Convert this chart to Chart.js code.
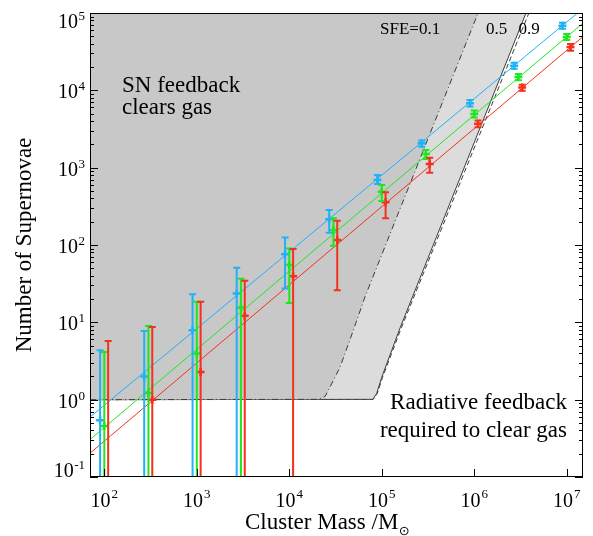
<!DOCTYPE html>
<html lang="en">
<head>
<meta charset="UTF-8" />
<title>Number of Supernovae vs Cluster Mass</title>
<script src="https://cdn.jsdelivr.net/npm/chart.js"></script>
<style>
  html, body { margin: 0; padding: 0; background: #fff; }
  #wrap { width: 593px; height: 536px; }
</style>
</head>
<body>
<div id="wrap"><canvas id="snChart"></canvas></div>
<script>
  // cluster masses (each colour is plotted slightly offset)
  const blueMass  = [90, 270, 900, 2700, 9000, 2.7e4, 9e4, 2.7e5, 9e5, 2.7e6, 9e6];
  const greenMass = [100, 300, 1000, 3000, 1e4, 3e4, 1e5, 3e5, 1e6, 3e6, 1e7];
  const redMass   = [110, 330, 1100, 3300, 1.1e4, 3.3e4, 1.1e5, 3.3e5, 1.1e6, 3.3e6, 1.1e7];

  // number of supernovae + error bar ends
  const blueN   = [0.54, 2.0, 7.9, 23.6, 76, 216, 693, 2070, 6820, 20750, 68500];
  const blueHi  = [4.35, 7.7, 23.1, 50.7, 125, 283, 805, 2240, 7500, 22700, 75000];
  const blueLo  = [0.001, 0.001, 0.001, 0.001, 27.4, 144, 615, 1870, 6200, 19000, 62500];
  const greenN  = [0.455, 1.22, 3.94, 15.5, 55, 156, 489, 1504, 4960, 14830, 48900];
  const greenHi = [4.14, 8.98, 18.4, 36.5, 90.4, 221, 597, 1694, 5500, 16300, 53500];
  const greenLo = [0.001, 0.001, 0.001, 0.001, 17.8, 97.7, 371, 1294, 4450, 13500, 44700];
  const redN    = [null, 1.0, 2.28, 12.2, 39.5, 116, 356, 1117, 3690, 10870, 36300];
  const redHi   = [5.74, 8.7, 18.4, 34.4, 88.5, 206, 480, 1348, 4070, 11780, 39600];
  const redLo   = [0.001, 0.001, 0.001, 0.001, 0.001, 26, 221, 861, 3335, 9860, 32500];

  // fitted lines (end points)
  const blueFitM = [70, 1.31e7],  blueFitN = [0.595, 1e5];
  const greenFitM = [70, 1.5e7],  greenFitN = [0.305, 74000];
  const redFitM = [70, 1.5e7],    redFitN = [0.203, 49500];

  // SFE boundaries
  const sfe01M = [70, 2.07e4, 2.44e4, 2.76e4, 3.54e4, 4.93e4, 6.59e4, 1.1e6];
  const sfe01N = [1, 1.01, 1.10, 1.46, 2.64, 7.9, 21.4, 1e5];
  const sfe05M = [70, 8.0e4, 8.8e4, 1.0e5, 1.58e5, 3.63e6];
  const sfe05N = [1, 1.01, 1.2, 1.95, 8.5, 1e5];
  const sfe09M = [70, 8.1e4, 8.95e4, 1.02e5, 1.63e5, 3.9e6];
  const sfe09N = [1, 1.01, 1.2, 1.95, 8.5, 1e5];

  // axis ticks (powers of ten)
  const xTickExps = [2, 3, 4, 5, 6, 7];
  const yTickExps = [-1, 0, 1, 2, 3, 4, 5];

  const BLUE = '#1eb2f8', GREEN = '#20e620', RED = '#f2321e';
  const SERIF = '"Liberation Serif", "Times New Roman", serif';

  const pts = (xs, ys) => xs.map((v, i) => ({ x: v, y: ys[i] }));

  const markers = (label, xs, ys, hi, lo, color) => ({
    label, data: pts(xs, ys), showLine: false, order: 0,
    pointStyle: 'cross', pointRadius: 4, borderWidth: 2.5,
    borderColor: color, backgroundColor: color,
    errM: xs, errHi: hi, errLo: lo
  });
  const fitLine = (xs, ys, color) => ({
    data: pts(xs, ys), borderColor: color, borderWidth: 1,
    pointRadius: 0, fill: false, order: 1
  });

  // error bars drawn through the chart scales
  const errorBars = {
    id: 'errorBars',
    afterDatasetsDraw(chart) {
      const { ctx, chartArea: a, scales: { x, y } } = chart;
      ctx.save();
      ctx.beginPath();
      ctx.rect(a.left, a.top, a.right - a.left, a.bottom - a.top);
      ctx.clip();
      ctx.lineWidth = 2;
      chart.data.datasets.forEach(ds => {
        if (!ds.errHi) return;
        ctx.strokeStyle = ds.borderColor;
        ds.errM.forEach((m, i) => {
          const px = x.getPixelForValue(m);
          const top = y.getPixelForValue(ds.errHi[i]);
          const bot = y.getPixelForValue(ds.errLo[i]);
          ctx.beginPath();
          ctx.moveTo(px, top); ctx.lineTo(px, bot);
          ctx.moveTo(px - 3.5, top); ctx.lineTo(px + 3.5, top);
          ctx.moveTo(px - 3.5, bot); ctx.lineTo(px + 3.5, bot);
          ctx.stroke();
        });
      });
      ctx.restore();
    }
  };

  // frame, inward ticks, 10^n labels, titles and notes
  const frameAndText = {
    id: 'frameAndText',
    afterDraw(chart) {
      const { ctx, chartArea: a, scales: { x, y } } = chart;
      ctx.save();
      ctx.strokeStyle = '#000';
      ctx.lineWidth = 1;
      ctx.strokeRect(a.left + 0.5, a.top + 0.5, a.right - a.left - 1, a.bottom - a.top - 1);

      ctx.beginPath();
      yTickExps.forEach((e, i) => {
        const py = Math.round(y.getPixelForValue(Math.pow(10, e))) + 0.5;
        ctx.moveTo(a.left, py); ctx.lineTo(a.left + 8, py);
        ctx.moveTo(a.right, py); ctx.lineTo(a.right - 8, py);
        if (i < yTickExps.length - 1) {
          for (let k = 2; k <= 9; k++) {
            const pm = Math.round(y.getPixelForValue(k * Math.pow(10, e))) + 0.5;
            ctx.moveTo(a.left, pm); ctx.lineTo(a.left + 4, pm);
            ctx.moveTo(a.right, pm); ctx.lineTo(a.right - 4, pm);
          }
        }
      });
      xTickExps.forEach(e => {
        const px = Math.round(x.getPixelForValue(Math.pow(10, e))) + 0.5;
        ctx.moveTo(px, a.bottom); ctx.lineTo(px, a.bottom - 8);
      });
      ctx.stroke();

      ctx.fillStyle = '#000';
      ctx.textBaseline = 'alphabetic';
      const big = '20px ' + SERIF, sup = '13px ' + SERIF;

      // y labels
      yTickExps.forEach(e => {
        const exp = String(e);
        ctx.font = sup;
        const we = ctx.measureText(exp).width;
        const ty = y.getPixelForValue(Math.pow(10, e));
        const base = Math.min(Math.max(ty + 8, a.top + 15), a.bottom);
        ctx.textAlign = 'left';
        ctx.fillText(exp, 85 - we, base - 8);
        ctx.font = big;
        ctx.textAlign = 'right';
        ctx.fillText('10', 85 - we - 0.5, base);
      });
      // x labels
      xTickExps.forEach(e => {
        const exp = String(e);
        ctx.font = big;
        const w10 = ctx.measureText('10').width;
        ctx.font = sup;
        const we = ctx.measureText(exp).width;
        const left = x.getPixelForValue(Math.pow(10, e)) - (w10 + we + 1) / 2;
        ctx.textAlign = 'left';
        ctx.fillText(exp, left + w10 + 1, a.bottom + 21);
        ctx.font = big;
        ctx.fillText('10', left, a.bottom + 30);
      });

      // x title
      ctx.font = '23px ' + SERIF;
      const xt = 'Cluster Mass /M';
      const wt = ctx.measureText(xt).width;
      ctx.textAlign = 'left';
      ctx.fillText(xt, 245, 529);
      ctx.font = '13px "DejaVu Sans", sans-serif';
      ctx.fillText('\u2299', 245 + wt + 0.5, 535);

      // y title
      ctx.save();
      ctx.translate(31, (a.top + a.bottom) / 2);
      ctx.rotate(-Math.PI / 2);
      ctx.font = '23px ' + SERIF;
      ctx.textAlign = 'center';
      ctx.fillText('Number of Supernovae', 0, 0);
      ctx.restore();

      // notes inside plot
      ctx.font = '23px ' + SERIF;
      ctx.textAlign = 'left';
      ctx.fillText('SN feedback', 122, 92);
      ctx.fillText('clears gas', 122, 113.5);
      ctx.textAlign = 'right';
      ctx.fillText('Radiative feedback', 567, 408.5);
      ctx.fillText('required to clear gas', 567, 436.5);
      ctx.font = '17px ' + SERIF;
      ctx.textAlign = 'left';
      ctx.fillText('SFE=0.1', 380, 33.5);
      ctx.fillText('0.5', 486, 33.5);
      ctx.fillText('0.9', 518.5, 33.5);
      ctx.restore();
    }
  };

  new Chart(document.getElementById('snChart'), {
    type: 'line',
    data: {
      datasets: [
        markers('blue', blueMass, blueN, blueHi, blueLo, BLUE),
        markers('green', greenMass, greenN, greenHi, greenLo, GREEN),
        markers('red', redMass, redN, redHi, redLo, RED),
        fitLine(blueFitM, blueFitN, BLUE),
        fitLine(greenFitM, greenFitN, GREEN),
        fitLine(redFitM, redFitN, RED),
        {
          label: 'SFE=0.1', data: pts(sfe01M, sfe01N), order: 10,
          borderColor: '#3c3c3c', borderWidth: 1, borderDash: [6, 3, 1, 3],
          pointRadius: 0, fill: 'end', backgroundColor: '#c8c8c8'
        },
        {
          label: 'SFE=0.5', data: pts(sfe05M, sfe05N), order: 11,
          borderColor: '#3c3c3c', borderWidth: 1,
          pointRadius: 0, fill: 'end', backgroundColor: '#dcdcdc'
        },
        {
          label: 'SFE=0.9', data: pts(sfe09M, sfe09N), order: 12,
          borderColor: '#3c3c3c', borderWidth: 1, borderDash: [5, 3],
          pointRadius: 0, fill: false
        }
      ]
    },
    options: {
      responsive: true,
      maintainAspectRatio: false,
      animation: false,
      layout: { padding: { left: 90, right: 10, top: 13, bottom: 59 } },
      scales: {
        x: { type: 'logarithmic', min: 70, max: 1.5e7, display: false },
        y: { type: 'logarithmic', min: 0.1, max: 1e5, display: false }
      },
      plugins: {
        legend: { display: false },
        tooltip: { enabled: false }
      },
      elements: { line: { tension: 0 } }
    },
    plugins: [errorBars, frameAndText]
  });
</script>
</body>
</html>
